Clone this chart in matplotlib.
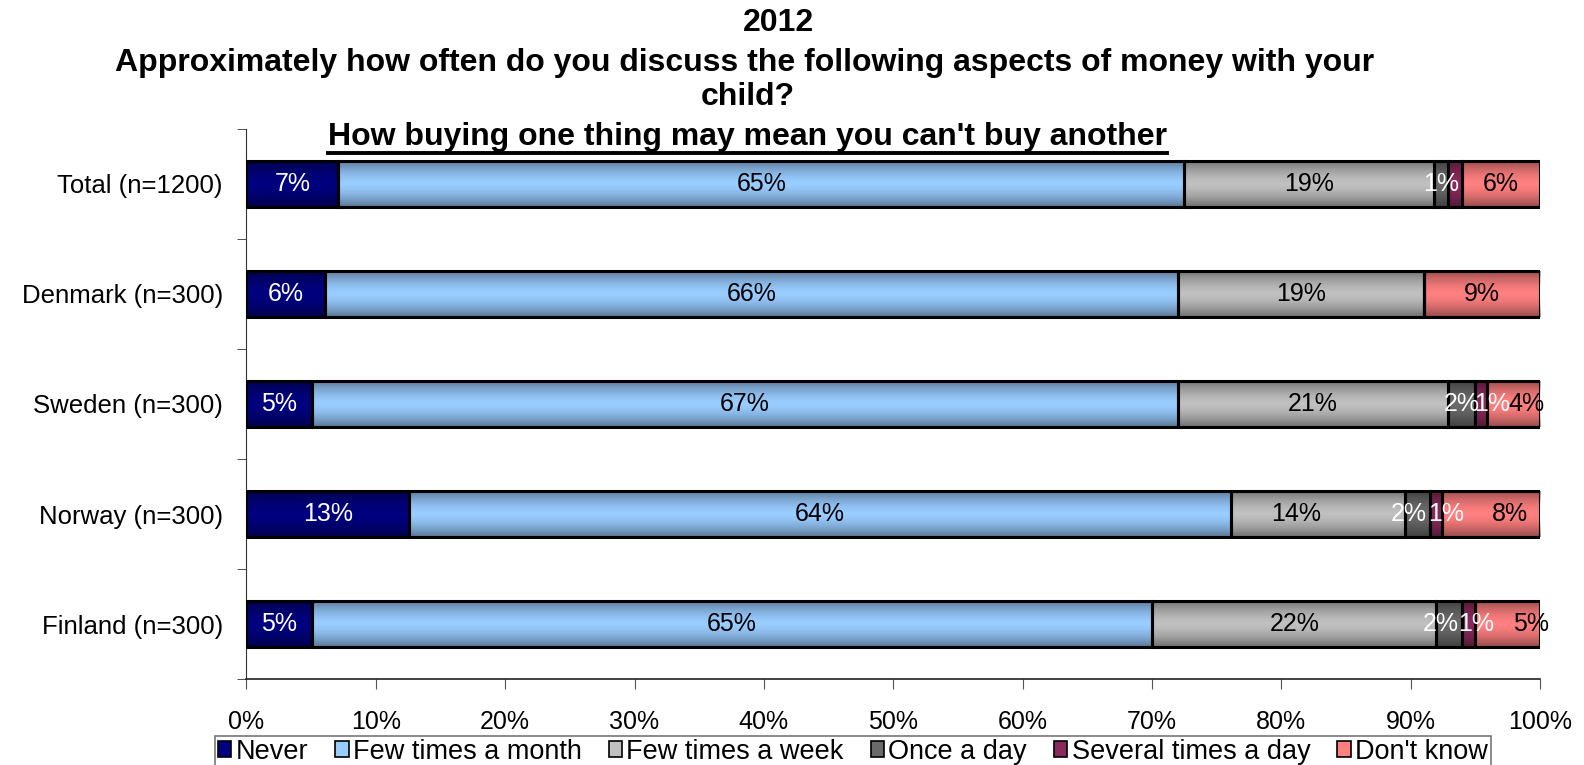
import numpy as np
import matplotlib
matplotlib.use("Agg")
import matplotlib.pyplot as plt
from matplotlib.lines import Line2D
from matplotlib.patches import Rectangle

plt.rcParams['font.family'] = ['Liberation Sans', 'DejaVu Sans']

# survey shares in percent, one list per answer, rows top to bottom
groups = ["Total (n=1200)", "Denmark (n=300)", "Sweden (n=300)", "Norway (n=300)", "Finland (n=300)"]
never = [7.1, 6.1, 5.1, 12.6, 5.1]
few_month = [65.4, 65.9, 66.9, 63.5, 64.9]
few_week = [19.3, 19.0, 20.9, 13.5, 22.0]
once_day = [1.1, 0.0, 2.1, 1.9, 2.0]
several_day = [1.1, 0.0, 0.9, 0.9, 1.0]
dont_know = [6.0, 9.0, 4.1, 7.6, 5.0]
series_names = ["Never", "Few times a month", "Few times a week", "Once a day",
                "Several times a day", "Don't know"]
xtick_labels = ["0%", "10%", "20%", "30%", "40%", "50%", "60%", "70%", "80%", "90%", "100%"]

series = [never, few_month, few_week, once_day, several_day, dont_know]
colors = ["#000080", "#99ccff", "#c0c0c0", "#6a6a6a", "#8a2a5c", "#ff8080"]
label_colors = ["white", "black", "black", "white", "white", "black"]

# labels Excel left out, and sideways nudges (in % units) for the crowded ones
hidden = {(0, 4)}
nudge = {(2, 4): 0.85, (2, 5): 1.0, (3, 2): -1.7, (3, 3): -0.7, (3, 4): 0.8,
         (3, 5): 1.5, (4, 3): -0.7, (4, 4): 0.6, (4, 5): 1.8}

fig = plt.figure(figsize=(15.84, 7.65), dpi=100)
ax = fig.add_axes([0.1556, 0.1124, 0.8166, 0.719])

y = np.arange(len(groups))
bar_h = 0.42

# vertical shading: darker at the top and bottom edge of each bar
t = np.linspace(-1, 1, 64)
shade = np.zeros((64, 1, 4))
shade[:, 0, 3] = 0.42 * np.abs(t) ** 1.6

left = np.zeros(len(groups))
for s, vals in enumerate(series):
    vals = np.array(vals)
    bars = ax.barh(y, vals, left=left, height=bar_h, color=colors[s],
                   edgecolor="black", linewidth=0, label=series_names[s], zorder=2)
    for i, b in enumerate(bars):
        if vals[i] <= 0:
            continue
        im = ax.imshow(shade, extent=[left[i], left[i] + vals[i], y[i] + bar_h / 2, y[i] - bar_h / 2],
                       aspect="auto", zorder=3, interpolation="bilinear")
        im.set_clip_path(b)
        if (i, s) in hidden:
            continue
        cx = left[i] + vals[i] / 2 + nudge.get((i, s), 0)
        ax.text(cx, y[i], "{}%".format(int(vals[i] + 0.5)), ha="center", va="center",
                fontsize=18, color=label_colors[s], zorder=6)
    # outline drawn on top of the shading
    ax.barh(y, vals, left=left, height=bar_h, fill=False, edgecolor="black",
            linewidth=2.2, zorder=4)
    left = left + vals

ax.set_xlim(0, 100)
ax.set_ylim(len(groups) - 0.5, -0.5)
ax.set_xticks(np.arange(0, 101, 10))
ax.set_xticklabels(xtick_labels, fontsize=18)
ax.set_yticks(y)
ax.set_yticklabels(groups, fontsize=18.5)
ax.set_yticks(np.arange(-0.5, len(groups)), minor=True)
ax.tick_params(axis="y", which="major", length=0, pad=17)
ax.tick_params(axis="y", which="minor", length=6.5, color="#333333")
ax.tick_params(axis="x", length=7, color="#555555", pad=15)
for side in ["top", "right"]:
    ax.spines[side].set_visible(False)
ax.spines["left"].set_color("#333333")
ax.spines["bottom"].set_color("#222222")
ax.spines["bottom"].set_linewidth(1.2)

# legend along the bottom edge
handles = [Rectangle((0, 0), 1, 1, facecolor=c, edgecolor="black", linewidth=1.2) for c in colors]
leg = fig.legend(handles, series_names, loc="upper left", bbox_to_anchor=(0.1357, 0.038),
                 ncol=6, frameon=True, fancybox=False, handlelength=0.5, handleheight=0.5,
                 handletextpad=0.15, columnspacing=1.0, borderpad=0.1, borderaxespad=0,
                 prop={'family': ['Liberation Sans Narrow', 'Liberation Sans'], 'size': 19.5})
leg.get_frame().set_edgecolor("#555555")
leg.get_frame().set_linewidth(1.2)

# title block
fig.text(0.4917, 0.970, "2012", ha="center", va="center", fontsize=23, fontweight="bold")
fig.text(0.470, 0.917, "Approximately how often do you discuss the following aspects of money with your",
         ha="center", va="center", fontsize=23, fontweight="bold")
fig.text(0.472, 0.873, "child?", ha="center", va="center", fontsize=23, fontweight="bold")
sub = fig.text(0.472, 0.821, "How buying one thing may mean you can't buy another",
               ha="center", va="center", fontsize=23, fontweight="bold")

fig.canvas.draw()
bb = sub.get_window_extent().transformed(fig.transFigure.inverted())
fig.add_artist(Line2D([bb.x0, bb.x1], [bb.y0 - 0.001, bb.y0 - 0.001], color="black",
                      linewidth=2.8, transform=fig.transFigure))

fig.savefig("out.png", dpi=100)
